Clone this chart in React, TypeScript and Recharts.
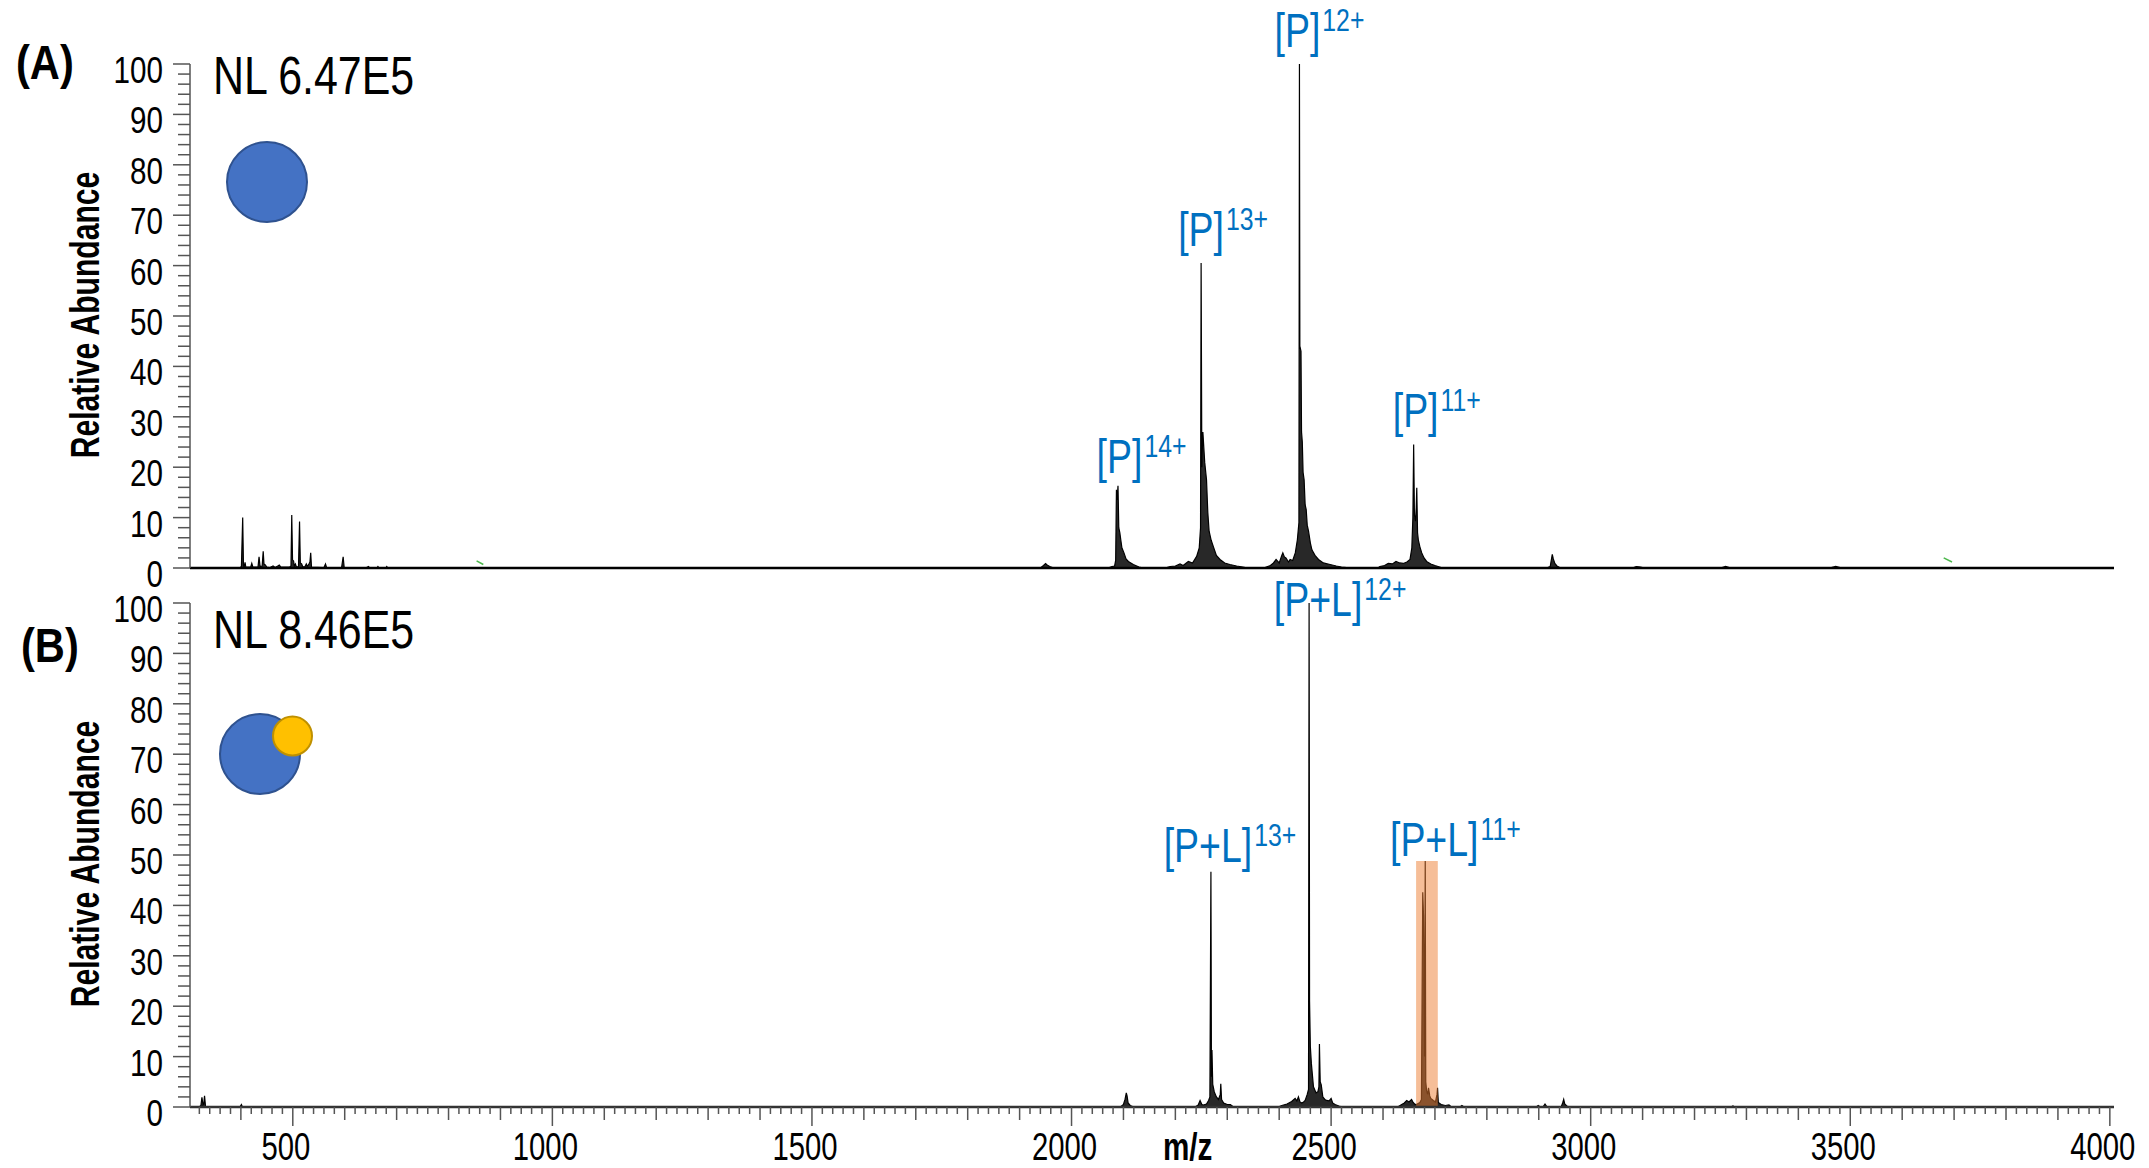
import React from "react";
import {
  ComposedChart,
  Area,
  Line,
  XAxis,
  YAxis,
  ReferenceArea,
  ReferenceDot,
} from "recharts";

type Pt = [number, number];

// ---- panel A: protein alone (m/z, relative abundance %) ----
const lowMassA: Pt[] = [
  [302, 0], [398, 0], [401, 0.3], [403.5, 10], [405, 0.4], [406.5, 0.2], [408, 1.1], [409.5, 0.2],
  [419, 0.2], [421, 0.9], [423, 0.2], [433, 0.2], [435, 2.2], [437, 0.3], [441, 0.4], [443, 3.3],
  [444.5, 0.8], [447, 0.6], [450, 0.2], [456, 0.1], [462, 0.4], [466, 0.1], [471, 0.4], [474, 0.6],
  [477, 0.2], [494, 0.2], [496.5, 0.4], [498, 10.5], [499.5, 1.6], [501.5, 1.4], [503, 0.4],
  [505, 0.8], [507, 0.2], [511, 0.3], [513, 9.2], [514.5, 1.0], [517, 0.8], [519, 0.3], [523, 0.2],
  [526, 0.8], [528, 0.3], [531, 0.8], [533, 1.2], [534.5, 3.0], [536, 0.2], [560, 0.1], [563, 0.8],
  [565, 0.1], [594, 0.1], [597, 2.2], [599, 0.1], [640, 0], [646, 0.3], [648, 0],
];
const midMassA: Pt[] = [
  [662, 0], [664, 0.3], [666, 0], [679, 0], [681, 0.3], [683, 0],
  [1940, 0], [1946, 0.5], [1950, 0.9], [1953, 0.6], [1958, 0.3], [1966, 0],
];
const charge14A: Pt[] = [
  [2070, 0], [2078, 0.3], [2083, 0.4], [2085, 1.5], [2086.5, 15.5], [2088, 13.5], [2089.5, 16.3],
  [2091, 8], [2093, 7], [2095, 5.5], [2097, 4], [2101, 3.0], [2105, 1.8], [2109.5, 1.3],
  [2119, 0.7], [2130, 0.2], [2138, 0],
];
const charge13A: Pt[] = [
  [2180, 0], [2190, 0.3], [2200, 0.4], [2209, 0.8], [2215, 0.5], [2225, 1.3], [2233, 1.0],
  [2241, 2.3], [2246, 4.0], [2248.5, 8], [2249.6, 60.5], [2251, 20], [2253, 27], [2256.5, 21],
  [2260, 17.5], [2262.5, 11], [2265, 7.3], [2269, 5.5], [2273, 4.3], [2279, 2.5], [2286, 1.7],
  [2295, 1.0], [2305, 0.7], [2318, 0.4], [2330, 0.2], [2340, 0],
];
const charge12A: Pt[] = [
  [2370, 0], [2383, 0.5], [2389, 1.0], [2394, 1.7], [2400, 1.0], [2405, 2.5], [2407, 3.0],
  [2410, 2.2], [2413, 2.0], [2418, 1.2], [2421, 1.7], [2426, 1.5], [2431, 3.0], [2435, 5.6],
  [2438, 9], [2439, 100], [2439.8, 44], [2442, 43], [2443, 27], [2444.5, 25], [2446, 19],
  [2448, 17.5], [2450, 12.5], [2452, 11.6], [2454, 8.5], [2456.5, 7.3], [2460, 5], [2463, 3.6],
  [2469, 2.5], [2475.7, 1.7], [2485, 1.0], [2498, 0.7], [2510, 0.4], [2520, 0.2], [2540, 0],
];
const charge11A: Pt[] = [
  [2590, 0], [2594, 0.3], [2603, 0.5], [2610, 0.9], [2618, 0.8], [2625, 1.3], [2632, 1.0],
  [2639, 0.9], [2646, 1.2], [2652, 1.7], [2655.5, 4], [2657.5, 10], [2659, 24.5], [2660.5, 10.5],
  [2662.5, 9.3], [2664, 12], [2665, 15.9], [2666.5, 7], [2668, 5.6], [2671, 4.2], [2674.6, 3],
  [2679, 2], [2684, 1.3], [2692, 0.8], [2700, 0.5], [2715, 0],
];
const highMassA: Pt[] = [
  [2915, 0], [2922, 0.3], [2926, 2.7], [2928, 1.8], [2931, 0.9], [2935, 0.4], [2942, 0],
  [3080, 0], [3088, 0.3], [3096, 0.2], [3104, 0], [3250, 0], [3260, 0.3], [3270, 0],
  [3460, 0], [3472, 0.3], [3484, 0], [4008, 0],
];
// stray green marks in the original trace
const greenA1: Pt[] = [[854, 1.4], [867, 0.7]];
const greenA2: Pt[] = [[3680, 2.0], [3696, 1.2]];

// ---- panel B: protein + ligand ----
const lowMassB: Pt[] = [
  [302, 0], [320, 0], [323, 0.3], [325, 1.9], [327, 0.4], [328.5, 0.6], [330, 2.2], [332, 0],
  [398, 0], [401, 0.5], [403, 0], [2094, 0], [2100, 0.5], [2103, 1.5], [2105.5, 2.8],
  [2107, 2.2], [2109, 0.8], [2113, 0.3], [2120, 0],
];
const charge13B: Pt[] = [
  [2238, 0], [2244, 0.4], [2247.6, 1.3], [2251, 0.5], [2254, 0.4], [2260, 0.6], [2264, 1.3],
  [2266.5, 2], [2268.5, 46.7], [2269.5, 6], [2270.5, 11.3], [2272, 4.5], [2275, 3], [2279, 2],
  [2283, 1.5], [2286.5, 2.5], [2287.5, 4.6], [2289, 1.5], [2293, 0.8], [2300, 0.5], [2306, 0.5],
  [2312, 0],
];
const charge12B: Pt[] = [
  [2398, 0], [2405, 0.3], [2415, 0.6], [2424, 1.1], [2430.7, 1.7], [2434, 1.2], [2437, 2],
  [2440, 1.0], [2443.6, 0.8], [2447, 1.0], [2450, 1.3], [2454, 2.5], [2456.5, 3.5],
  [2457.6, 100], [2458.5, 21], [2460, 12], [2462, 8.6], [2466, 4], [2471, 2.8], [2474.5, 3.0],
  [2476.5, 4], [2477.5, 12.5], [2479, 5], [2481, 4.4], [2484, 2], [2488, 1.5], [2491.5, 1.3],
  [2496, 1.2], [2500, 1.7], [2503, 0.8], [2507.6, 0.5], [2515, 0.2], [2522, 0],
];
const charge11B: Pt[] = [
  [2628, 0], [2636, 0.5], [2641, 0.8], [2645.6, 1.3], [2650, 1.0], [2655, 1.5], [2658, 0.9],
  [2661.6, 0.5], [2666, 0.6], [2671, 0.9], [2674, 1.5], [2676.5, 42.6], [2678, 38], [2680, 10],
  [2681.3, 48.8], [2682.3, 5], [2684, 3.2], [2686, 2.5], [2687.6, 3.8], [2690, 2.2], [2692, 1.7],
  [2697, 1.3], [2701, 1.0], [2704, 2.5], [2705, 3.8], [2706.5, 0.9], [2712, 0.5], [2720, 0.3],
  [2727, 0.4], [2732, 0],
];
const highMassB: Pt[] = [
  [2748, 0], [2752, 0.3], [2756, 0], [2895, 0], [2899, 0.3], [2903, 0], [2908, 0], [2912, 0.6],
  [2916, 0], [2943, 0], [2946, 0.8], [2948, 1.5], [2950, 0.6], [2954, 0.2], [2960, 0],
  [3270, 0], [3274, 0.2], [3278, 0], [4008, 0],
];

// highlighted [P+L]11+ window (m/z from, m/z to, top %)
const highlightB = { from: 2663.7, to: 2705.5, top: 48.8 };

const labelsA = [
  { ion: "[P]", charge: "14+", mz: 2089.5, rel: 16.3 },
  { ion: "[P]", charge: "13+", mz: 2249.6, rel: 60.5 },
  { ion: "[P]", charge: "12+", mz: 2439, rel: 100 },
  { ion: "[P]", charge: "11+", mz: 2659, rel: 24.5 },
];
const labelsB = [
  { ion: "[P+L]", charge: "13+", mz: 2268.5, rel: 46.7 },
  { ion: "[P+L]", charge: "12+", mz: 2457.6, rel: 100 },
  { ion: "[P+L]", charge: "11+", mz: 2681.3, rel: 48.8 },
];

const xLabelTicks = [500, 1000, 1500, 2000, 2500, 3000, 3500, 4000];
const yLabelTicks = [0, 10, 20, 30, 40, 50, 60, 70, 80, 90, 100];
const X_DOMAIN: [number, number] = [302, 4008];

const xTicks: number[] = [];
for (let v = 320; v <= 4000; v += 20) xTicks.push(v);
const yTicks: number[] = [];
yLabelTicks.forEach((v) => {
  yTicks.push(v);
  if (v < 100) [2, 4, 6, 8].forEach((d) => yTicks.push(v + d));
});

const toRows = (parts: Pt[][]) => parts.flat().map(([mz, rel]) => ({ mz, rel }));
const spectrumA = toRows([lowMassA, midMassA, charge14A, charge13A, charge12A, charge11A, highMassA]);
const spectrumB = toRows([lowMassB, charge13B, charge12B, charge11B, highMassB]);

const FONT = "'Liberation Sans', Arial, Helvetica, sans-serif";
const BLUE = "#0070C0";
const AXIS = "#555";

// label placement relative to the peak apex (px)
const offsetsA = [[1.5, -13], [0, -17], [-2, -17], [2, -18]];
const offsetsB = [[-3, -10], [9, 13], [9, -5]];

const ADV: Record<string, number> = { "[": 0.278, "]": 0.278, P: 0.667, L: 0.556, "+": 0.584 };
const textW = (s: string, size: number) =>
  s.split("").reduce((a, c) => a + (ADV[c] ?? 0.556), 0) * size;

function PeakLabel({ cx, cy, ion, charge, dx, dy }: any) {
  const sx = 0.78;
  const w = textW(ion, 48) * sx;
  const x0 = cx + dx - w / 2;
  const yb = cy + dy;
  return (
    <g>
      <text
        transform={`translate(${x0} ${yb}) scale(${sx} 1)`}
        fontSize={48}
        fill={BLUE}
        fontFamily={FONT}
      >
        {ion}
      </text>
      <text
        transform={`translate(${x0 + w + 2} ${yb - 16}) scale(0.8 1)`}
        fontSize={31}
        fill={BLUE}
        fontFamily={FONT}
      >
        {charge}
      </text>
    </g>
  );
}

function YTick({ x, y, payload }: any) {
  const v = payload.value;
  const major = v % 10 === 0;
  return (
    <g>
      <line x1={x - (major ? 17 : 12)} x2={x} y1={y} y2={y} stroke={AXIS} strokeWidth={1.5} />
      {major && (
        <text
          transform={`translate(${x - 27} ${y + 19}) scale(0.8 1)`}
          textAnchor="end"
          fontSize={37}
          fontFamily={FONT}
          fill="#000"
        >
          {v}
        </text>
      )}
    </g>
  );
}

function XTick({ x, y, payload }: any) {
  const v = payload.value;
  const major = xLabelTicks.includes(v);
  const len = major ? 19 : v % 100 === 0 ? 13 : 7;
  return (
    <g>
      <line x1={x} x2={x} y1={y} y2={y + len} stroke={AXIS} strokeWidth={1.5} />
      {major && (
        <text
          transform={`translate(${x - 7} ${y + 53}) scale(0.77 1)`}
          textAnchor="middle"
          fontSize={38}
          fontFamily={FONT}
          fill="#000"
        >
          {v}
        </text>
      )}
    </g>
  );
}

const green = (pts: Pt[]) => pts.map(([mz, rel]) => ({ mz, rel }));

export default function App() {
  return (
    <div style={{ position: "absolute", left: 0, top: 0, width: 2149, height: 1168, background: "#fff" }}>
      {/* (A) protein only */}
      <div style={{ position: "absolute", left: 0, top: 0 }}>
        <ComposedChart
          width={2149}
          height={600}
          data={spectrumA}
          margin={{ top: 64, right: 35, bottom: 2, left: 130 }}
        >
          <XAxis
            type="number"
            dataKey="mz"
            domain={X_DOMAIN}
            allowDataOverflow
            height={30}
            tick={false}
            tickLine={false}
            axisLine={{ stroke: "#000", strokeWidth: 2.5 }}
          />
          <YAxis
            type="number"
            domain={[0, 100]}
            allowDataOverflow
            width={60}
            ticks={yTicks}
            interval={0}
            tickSize={0}
            tickMargin={0}
            tickLine={false}
            tick={<YTick />}
            axisLine={{ stroke: AXIS, strokeWidth: 1.5 }}
          />
          <Area
            type="linear"
            dataKey="rel"
            stroke="#000"
            strokeWidth={1.2}
            fill="#111"
            fillOpacity={0.9}
            dot={false}
            activeDot={false}
            isAnimationActive={false}
          />
          <Line data={green(greenA1)} type="linear" dataKey="rel" stroke="#4CB84C" strokeWidth={1.5} dot={false} isAnimationActive={false} />
          <Line data={green(greenA2)} type="linear" dataKey="rel" stroke="#4CB84C" strokeWidth={1.5} dot={false} isAnimationActive={false} />
          {labelsA.map((l, i) => (
            <ReferenceDot
              key={l.charge}
              x={l.mz}
              y={l.rel}
              r={0}
              ifOverflow="visible"
              shape={(p: any) => (
                <PeakLabel cx={p.cx} cy={p.cy} ion={l.ion} charge={l.charge} dx={offsetsA[i][0]} dy={offsetsA[i][1]} />
              )}
            />
          ))}
        </ComposedChart>
      </div>

      {/* (B) protein + ligand */}
      <div style={{ position: "absolute", left: 0, top: 0 }}>
        <ComposedChart
          width={2149}
          height={1168}
          data={spectrumB}
          margin={{ top: 603, right: 35, bottom: 0, left: 130 }}
        >
          <XAxis
            type="number"
            dataKey="mz"
            domain={X_DOMAIN}
            allowDataOverflow
            height={61}
            ticks={xTicks}
            interval={0}
            tickSize={0}
            tickMargin={0}
            tickLine={false}
            tick={<XTick />}
            axisLine={{ stroke: "#333", strokeWidth: 2.5 }}
          />
          <YAxis
            type="number"
            domain={[0, 100]}
            allowDataOverflow
            width={60}
            ticks={yTicks}
            interval={0}
            tickSize={0}
            tickMargin={0}
            tickLine={false}
            tick={<YTick />}
            axisLine={{ stroke: AXIS, strokeWidth: 1.5 }}
          />
          <Area
            type="linear"
            dataKey="rel"
            stroke="#000"
            strokeWidth={1.2}
            fill="#111"
            fillOpacity={0.9}
            dot={false}
            activeDot={false}
            isAnimationActive={false}
          />
          <ReferenceArea
            x1={highlightB.from}
            x2={highlightB.to}
            y1={0}
            y2={highlightB.top}
            fill="#ED7D31"
            fillOpacity={0.5}
            stroke="none"
          />
          {labelsB.map((l, i) => (
            <ReferenceDot
              key={l.charge}
              x={l.mz}
              y={l.rel}
              r={0}
              ifOverflow="visible"
              shape={(p: any) => (
                <PeakLabel cx={p.cx} cy={p.cy} ion={l.ion} charge={l.charge} dx={offsetsB[i][0]} dy={offsetsB[i][1]} />
              )}
            />
          ))}
        </ComposedChart>
      </div>

      {/* panel tags, NL values, axis titles and the protein / ligand glyphs */}
      <svg
        width={2149}
        height={1168}
        style={{ position: "absolute", left: 0, top: 0, pointerEvents: "none" }}
        fontFamily={FONT}
      >
        <text transform="translate(16 79) scale(0.85 1)" fontSize={49} fontWeight="bold">(A)</text>
        <text transform="translate(21 662) scale(0.85 1)" fontSize={49} fontWeight="bold">(B)</text>
        <text transform="translate(213 94) scale(0.81 1)" fontSize={53}>NL 6.47E5</text>
        <text transform="translate(213 648) scale(0.81 1)" fontSize={53}>NL 8.46E5</text>
        <text transform="translate(99 315) rotate(-90) scale(0.753 1)" textAnchor="middle" fontSize={40} fontWeight="bold">
          Relative Abundance
        </text>
        <text transform="translate(99 864) rotate(-90) scale(0.753 1)" textAnchor="middle" fontSize={40} fontWeight="bold">
          Relative Abundance
        </text>
        <text transform="translate(1163 1160) scale(0.78 1)" fontSize={38} fontWeight="bold">m/z</text>
        <circle cx={267} cy={182} r={40} fill="#4472C4" stroke="#2F528F" strokeWidth={2} />
        <circle cx={260} cy={754} r={40} fill="#4472C4" stroke="#2F528F" strokeWidth={2} />
        <circle cx={292.5} cy={736} r={19.5} fill="#FFC000" stroke="#BF9000" strokeWidth={2} />
      </svg>
    </div>
  );
}
